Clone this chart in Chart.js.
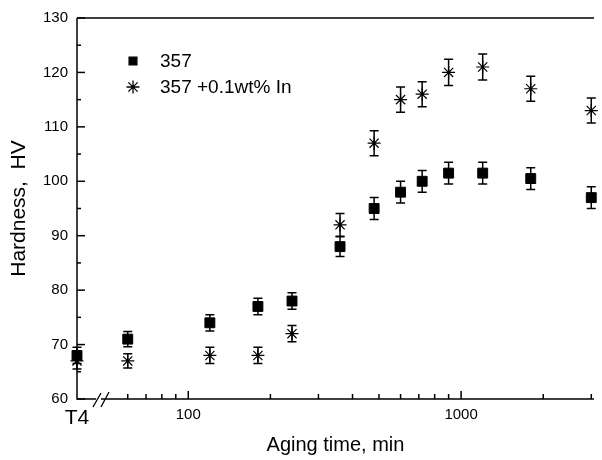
<!DOCTYPE html>
<html>
<head>
<meta charset="utf-8">
<script src="https://cdn.jsdelivr.net/npm/chart.js@4"></script>
<style>
  html, body { margin: 0; padding: 0; background: #fff; }
  #wrap { width: 602px; height: 460px; }
</style>
</head>
<body>
<div id="wrap"><canvas id="chart" width="602" height="460"></canvas></div>
<script>
// Hardness vs aging time (log axis, T4 = as-quenched state at axis start)

const T4_POS = 39.1;   // where the T4 state sits on the broken log axis
const X_MAX = 3070;

const agingTimes = [T4_POS, 60, 120, 180, 240, 360, 480, 600, 720, 900, 1200, 1800, 3000];

const hv357 = [68, 71, 74, 77, 78, 88, 95, 98, 100, 101.5, 101.5, 100.5, 97];
const err357 = [1.5, 1.4, 1.5, 1.5, 1.5, 1.8, 2, 2, 2, 2, 2, 2, 2];

const hv357In = [67, 67, 68, 68, 72, 92, 107, 115, 116, 120, 121, 117, 113];
const errIn = [1.5, 1.3, 1.5, 1.5, 1.5, 2.1, 2.3, 2.3, 2.3, 2.4, 2.4, 2.3, 2.3];

const xTickValues = [T4_POS, 60, 70, 80, 90, 100, 200, 300, 400, 500, 600, 700, 800, 900, 1000, 2000, 3000];
const xTickLabels = { 100: '100', 1000: '1000' };

const seriesNames = ['357', '357 +0.1wt% In'];

const FONT = "'Liberation Sans', Arial, sans-serif";

function toPoints(xs, ys) {
    return xs.map((x, i) => ({ x: x, y: ys[i] }));
}

// Axis frame, inward ticks, axis break, error bars and legend
const framePlugin = {
    id: 'frame',
    beforeDatasetsDraw(chart) {
        const ctx = chart.ctx;
        const area = chart.chartArea;
        const xs = chart.scales.x;
        const ys = chart.scales.y;
        ctx.save();
        ctx.strokeStyle = '#000';
        ctx.lineWidth = 1.5;

        // axis lines
        ctx.beginPath();
        ctx.moveTo(area.left, area.top);
        ctx.lineTo(area.left, area.bottom);
        ctx.lineTo(area.right, area.bottom);
        ctx.moveTo(area.left, area.top);
        ctx.lineTo(area.right, area.top);
        ctx.stroke();

        // y ticks pointing inside
        ys.ticks.forEach(t => {
            const y = ys.getPixelForValue(t.value);
            const len = t.value % 10 === 0 ? 8 : 4;
            ctx.beginPath();
            ctx.moveTo(area.left, y);
            ctx.lineTo(area.left + len, y);
            ctx.stroke();
        });

        // x ticks pointing inside (no tick at T4)
        xTickValues.forEach(v => {
            if (v === T4_POS) return;
            const x = xs.getPixelForValue(v);
            const len = xTickLabels[v] ? 8 : 5;
            ctx.beginPath();
            ctx.moveTo(x, area.bottom);
            ctx.lineTo(x, area.bottom - len);
            ctx.stroke();
        });

        // axis break "//"
        const bx = area.left + 16;
        ctx.fillStyle = '#fff';
        ctx.fillRect(bx + 3, area.bottom - 2, 5, 4);
        ctx.lineWidth = 1.3;
        ctx.beginPath();
        ctx.moveTo(bx, area.bottom + 8);
        ctx.lineTo(bx + 8, area.bottom - 6);
        ctx.moveTo(bx + 8, area.bottom + 8);
        ctx.lineTo(bx + 16, area.bottom - 7);
        ctx.stroke();

        // error bars
        ctx.lineWidth = 1.5;
        const bars = [[hv357, err357], [hv357In, errIn]];
        bars.forEach(([vals, errs]) => {
            agingTimes.forEach((t, i) => {
                const x = xs.getPixelForValue(t);
                const yTop = ys.getPixelForValue(vals[i] + errs[i]);
                const yBot = ys.getPixelForValue(vals[i] - errs[i]);
                ctx.beginPath();
                ctx.moveTo(x, yTop);
                ctx.lineTo(x, yBot);
                ctx.moveTo(x - 4.5, yTop);
                ctx.lineTo(x + 4.5, yTop);
                ctx.moveTo(x - 4.5, yBot);
                ctx.lineTo(x + 4.5, yBot);
                ctx.stroke();
            });
        });
        ctx.restore();
    },
    afterDraw(chart) {
        const ctx = chart.ctx;
        ctx.save();
        const items = [
            { style: 'rect', radius: 5.5, y: 61 },
            { style: 'star', radius: 6.5, y: 87 }
        ];
        items.forEach((it, i) => {
            ctx.fillStyle = '#000';
            ctx.strokeStyle = '#000';
            ctx.lineWidth = 1.3;
            Chart.helpers.drawPoint(ctx, { pointStyle: it.style, radius: it.radius, borderWidth: 1.3 }, 133, it.y);
            ctx.fillStyle = '#000';
            ctx.font = '19px ' + FONT;
            ctx.textBaseline = 'middle';
            ctx.textAlign = 'left';
            ctx.fillText(seriesNames[i], 160, it.y + 1);
        });
        ctx.restore();
    }
};

const ctx = document.getElementById('chart').getContext('2d');
new Chart(ctx, {
    type: 'scatter',
    data: {
        datasets: [{
            label: seriesNames[0],
            data: toPoints(agingTimes, hv357),
            pointStyle: 'rect',
            pointRadius: 7,
            backgroundColor: '#000',
            borderColor: '#000',
            borderWidth: 1,
            clip: false
        }, {
            label: seriesNames[1],
            data: toPoints(agingTimes, hv357In),
            pointStyle: 'star',
            pointRadius: 6.5,
            backgroundColor: '#000',
            borderColor: '#000',
            borderWidth: 1.2,
            clip: false
        }]
    },
    options: {
        responsive: false,
        animation: false,
        layout: { padding: { top: 17, right: 0, left: 0, bottom: 0 } },
        plugins: {
            legend: { display: false },
            tooltip: { enabled: false }
        },
        scales: {
            x: {
                type: 'logarithmic',
                min: T4_POS,
                max: X_MAX,
                grid: { display: false, drawTicks: false },
                border: { display: false },
                afterBuildTicks: scale => {
                    scale.ticks = xTickValues.map(v => ({ value: v }));
                },
                afterFit: scale => { scale.height = 61; },
                ticks: {
                    autoSkip: false,
                    maxRotation: 0,
                    padding: 7,
                    color: '#000',
                    font: c => (c.tick && c.tick.value === T4_POS)
                        ? { family: FONT, size: 21 }
                        : { family: FONT, size: 15 },
                    callback: v => v === T4_POS ? 'T4' : (xTickLabels[v] || '')
                },
                title: {
                    display: true,
                    text: 'Aging time, min',
                    color: '#000',
                    font: { family: FONT, size: 20 },
                    padding: { top: 0, bottom: 3 }
                }
            },
            y: {
                min: 60,
                max: 130,
                grid: { display: false, drawTicks: false },
                border: { display: false },
                afterFit: scale => { scale.width = 77; },
                ticks: {
                    stepSize: 5,
                    autoSkip: false,
                    padding: 9,
                    color: '#000',
                    font: { family: FONT, size: 15 },
                    callback: v => v % 10 === 0 ? String(v) : ''
                },
                title: {
                    display: true,
                    text: 'Hardness,  HV',
                    color: '#000',
                    font: { family: FONT, size: 21 },
                    padding: { top: 7, bottom: 0 }
                }
            }
        }
    },
    plugins: [framePlugin]
});
</script>
</body>
</html>
